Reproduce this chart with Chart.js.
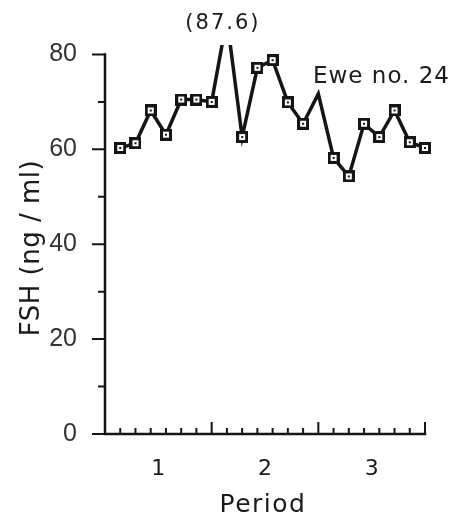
<!DOCTYPE html>
<html>
<head>
<meta charset="utf-8">
<script src="https://cdn.jsdelivr.net/npm/chart.js@4.4.1/dist/chart.umd.min.js"></script>
<style>
  html, body { margin: 0; padding: 0; background: #fff; }
  #wrap { width: 469px; height: 524px; }
</style>
</head>
<body>
<div id="wrap"><canvas id="fshChart"></canvas></div>
<script>
// sample number along the three periods (7 samples each)
var samples = [1, 2, 3, 4, 5, 6, 7, 8, 9, 10, 11, 12, 13, 14, 15, 16, 17, 18, 19, 20, 21];
// FSH, ng/ml
var fsh = [60.3, 61.3, 68.2, 63.1, 70.5, 70.5, 70.0, 87.6, 62.6, 77.2, 78.8, 69.9, 65.4, 71.7, 58.2, 54.3, 65.4, 62.6, 68.2, 61.5, 60.3];
// samples drawn as plain line (off-scale peak, and the one under the label)
var noMarker = [8, 14];

var periodLabels = ['1', '2', '3'];
var periodCentres = [3.5, 10.5, 17.5];
var periodEnds = [7, 14, 21];
var yTicks = [0, 20, 40, 60, 80];
var yMinorTicks = [10, 30, 50, 70];

var peakLabel = '(87.6)';
var ewe = 'Ewe no. 24';

// open square with a dot in the middle
function squareMarker() {
    var c = document.createElement('canvas');
    c.width = 12; c.height = 12;
    var g = c.getContext('2d');
    g.fillStyle = '#151515';
    g.fillRect(0, 0, 12, 12);
    g.fillStyle = '#fff';
    g.fillRect(3, 3, 6, 6);
    g.fillStyle = '#151515';
    g.fillRect(5, 5, 2, 2);
    return c;
}
var marker = squareMarker();

var points = samples.map(function (s, i) { return { x: s, y: fsh[i] }; });

// axis lines, tick marks and the free text
var framePlugin = {
    id: 'frame',
    afterDraw: function (chart) {
        var ctx = chart.ctx;
        var xs = chart.scales.x, ys = chart.scales.y;
        var x0 = xs.getPixelForValue(0), x1 = xs.getPixelForValue(21);
        var y0 = ys.getPixelForValue(0), y80 = ys.getPixelForValue(80);
        ctx.save();
        ctx.strokeStyle = '#151515';
        ctx.lineWidth = 2.5;
        ctx.lineCap = 'square';
        ctx.beginPath();
        ctx.moveTo(x0, y80); ctx.lineTo(x0, y0); ctx.lineTo(x1, y0);
        ctx.stroke();

        ctx.lineWidth = 2;
        ctx.lineCap = 'butt';
        ctx.beginPath();
        yTicks.forEach(function (v) {
            var p = ys.getPixelForValue(v);
            ctx.moveTo(x0 - 13, p); ctx.lineTo(x0, p);
        });
        yMinorTicks.forEach(function (v) {
            var p = ys.getPixelForValue(v);
            ctx.moveTo(x0 - 7, p); ctx.lineTo(x0, p);
        });
        for (var s = 1; s <= 21; s++) {
            var px = xs.getPixelForValue(s);
            var len = periodEnds.indexOf(s) >= 0 ? 12 : 6;
            ctx.moveTo(px, y0); ctx.lineTo(px, y0 - len);
        }
        ctx.stroke();

        ctx.fillStyle = '#1a1a1a';
        ctx.font = '21px "DejaVu Sans"';
        ctx.letterSpacing = '2px';
        ctx.textAlign = 'center';
        ctx.textBaseline = 'alphabetic';
        ctx.fillText(peakLabel, xs.getPixelForValue(8) - 4, 29);

        ctx.font = '23px "DejaVu Sans"';
        ctx.letterSpacing = '1px';
        ctx.textAlign = 'left';
        ctx.fillText(ewe, 313, 83);

        ctx.font = '25px "DejaVu Sans"';
        ctx.letterSpacing = '1.5px';
        ctx.textAlign = 'center';
        ctx.fillText('Period', 263, 512);

        ctx.translate(39, 248);
        ctx.rotate(-Math.PI / 2);
        ctx.font = '26px "DejaVu Sans"';
        ctx.letterSpacing = '0.5px';
        ctx.fillText('FSH (ng / ml)', 0, 0);
        ctx.restore();
    }
};

var data = {
    datasets: [{
        label: 'FSH',
        data: points,
        borderColor: '#151515',
        borderWidth: 3.5,
        tension: 0,
        pointStyle: samples.map(function (s) { return noMarker.indexOf(s) >= 0 ? false : marker; }),
        clip: { left: 20, right: 20, top: 0, bottom: 20 }
    }]
};

var config = {
    type: 'line',
    data: data,
    options: {
        responsive: true,
        maintainAspectRatio: false,
        animation: false,
        events: [],
        layout: { padding: { top: 45, right: 44, bottom: 0, left: 0 } },
        scales: {
            x: {
                type: 'linear',
                min: 0,
                max: 21,
                grid: { display: false, drawTicks: false },
                border: { display: false },
                afterBuildTicks: function (scale) {
                    scale.ticks = periodCentres.map(function (v) { return { value: v }; });
                },
                afterFit: function (scale) { scale.height = 90; },
                ticks: {
                    padding: 22,
                    maxRotation: 0,
                    color: '#1a1a1a',
                    font: { family: 'DejaVu Sans', size: 22 },
                    callback: function (value) {
                        return periodLabels[periodCentres.indexOf(value)];
                    }
                }
            },
            y: {
                min: 0,
                max: 82,
                grid: { display: false, drawTicks: false },
                border: { display: false },
                afterBuildTicks: function (scale) {
                    scale.ticks = yTicks.map(function (v) { return { value: v }; });
                },
                afterFit: function (scale) { scale.width = 105; },
                ticks: {
                    padding: 28,
                    color: '#333',
                    font: { family: 'Liberation Sans', size: 25 }
                }
            }
        },
        plugins: {
            legend: { display: false },
            tooltip: { enabled: false }
        }
    },
    plugins: [framePlugin]
};

var chart = new Chart(document.getElementById('fshChart'), config);
</script>
</body>
</html>
